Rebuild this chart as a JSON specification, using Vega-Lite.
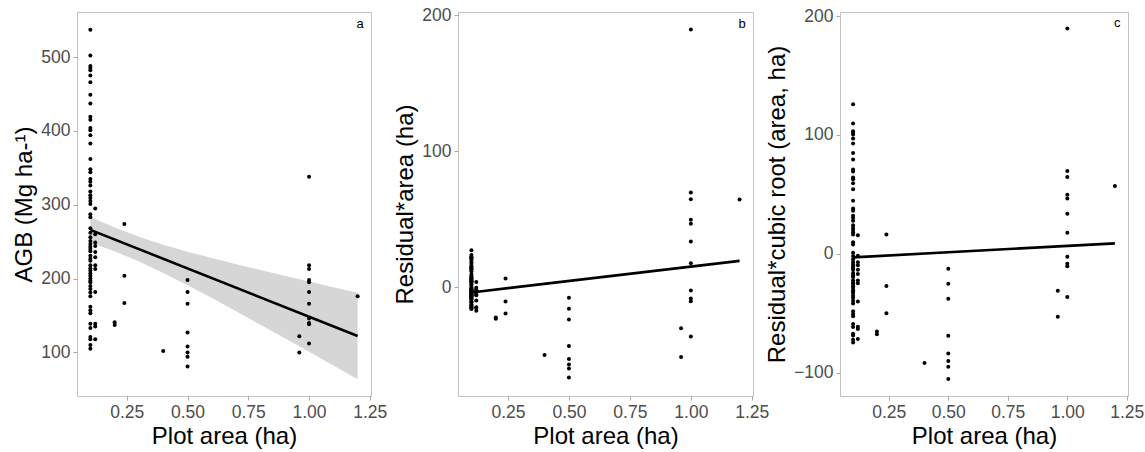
{
  "$schema": "https://vega.github.io/schema/vega-lite/v6.json",
  "background": "white",
  "padding": {"left": 12, "top": 5, "right": 5, "bottom": 5},
  "config": {
    "font": "Liberation Sans",
    "view": {"stroke": "#c2c2c2", "strokeWidth": 1},
    "axis": {
      "grid": false,
      "domain": false,
      "ticks": true,
      "tickColor": "#a8a8a8",
      "tickSize": 4,
      "labelColor": "#4d4d4d",
      "labelFont": "Liberation Sans",
      "labelFontSize": 17.5,
      "labelPadding": 3,
      "titleFont": "Liberation Sans",
      "titleFontSize": 24,
      "titleFontWeight": "normal",
      "titleColor": "#000000",
      "titlePadding": 4
    }
  },
  "datasets": {
    "obs": [
      {"area": 0.1, "agb": 537, "ra": 27.1, "rc": 125.8},
      {"area": 0.1, "agb": 502, "ra": 23.6, "rc": 109.6},
      {"area": 0.1, "agb": 488, "ra": 22.2, "rc": 103.1},
      {"area": 0.1, "agb": 485, "ra": 21.9, "rc": 101.7},
      {"area": 0.1, "agb": 482, "ra": 21.6, "rc": 100.3},
      {"area": 0.1, "agb": 475, "ra": 20.9, "rc": 97.0},
      {"area": 0.1, "agb": 466, "ra": 20.0, "rc": 92.8},
      {"area": 0.1, "agb": 449, "ra": 18.3, "rc": 84.9},
      {"area": 0.1, "agb": 437, "ra": 17.1, "rc": 79.4},
      {"area": 0.1, "agb": 419, "ra": 15.3, "rc": 71.0},
      {"area": 0.1, "agb": 415, "ra": 14.9, "rc": 69.2},
      {"area": 0.1, "agb": 404, "ra": 13.8, "rc": 64.1},
      {"area": 0.1, "agb": 401, "ra": 13.5, "rc": 62.7},
      {"area": 0.1, "agb": 394, "ra": 12.8, "rc": 59.4},
      {"area": 0.1, "agb": 383, "ra": 11.7, "rc": 54.3},
      {"area": 0.1, "agb": 362, "ra": 9.6, "rc": 44.6},
      {"area": 0.1, "agb": 348, "ra": 8.2, "rc": 38.1},
      {"area": 0.1, "agb": 344, "ra": 7.8, "rc": 36.2},
      {"area": 0.1, "agb": 335, "ra": 6.9, "rc": 32.0},
      {"area": 0.1, "agb": 331, "ra": 6.5, "rc": 30.2},
      {"area": 0.1, "agb": 326, "ra": 6.0, "rc": 27.9},
      {"area": 0.1, "agb": 318, "ra": 5.2, "rc": 24.1},
      {"area": 0.1, "agb": 313, "ra": 4.7, "rc": 21.8},
      {"area": 0.1, "agb": 309, "ra": 4.3, "rc": 20.0},
      {"area": 0.1, "agb": 305, "ra": 3.9, "rc": 18.1},
      {"area": 0.1, "agb": 301, "ra": 3.5, "rc": 16.2},
      {"area": 0.1, "agb": 287, "ra": 2.1, "rc": 9.7},
      {"area": 0.1, "agb": 283, "ra": 1.7, "rc": 7.9},
      {"area": 0.1, "agb": 268, "ra": 0.2, "rc": 0.9},
      {"area": 0.1, "agb": 262, "ra": -0.4, "rc": -1.9},
      {"area": 0.1, "agb": 256, "ra": -1.0, "rc": -4.6},
      {"area": 0.1, "agb": 251, "ra": -1.5, "rc": -7.0},
      {"area": 0.1, "agb": 247, "ra": -1.9, "rc": -8.8},
      {"area": 0.1, "agb": 243, "ra": -2.3, "rc": -10.7},
      {"area": 0.1, "agb": 240, "ra": -2.6, "rc": -12.1},
      {"area": 0.1, "agb": 237, "ra": -2.9, "rc": -13.5},
      {"area": 0.1, "agb": 231, "ra": -3.5, "rc": -16.2},
      {"area": 0.1, "agb": 227, "ra": -3.9, "rc": -18.1},
      {"area": 0.1, "agb": 224, "ra": -4.2, "rc": -19.5},
      {"area": 0.1, "agb": 218, "ra": -4.8, "rc": -22.3},
      {"area": 0.1, "agb": 214, "ra": -5.2, "rc": -24.1},
      {"area": 0.1, "agb": 211, "ra": -5.5, "rc": -25.5},
      {"area": 0.1, "agb": 207, "ra": -5.9, "rc": -27.4},
      {"area": 0.1, "agb": 204, "ra": -6.2, "rc": -28.8},
      {"area": 0.1, "agb": 200, "ra": -6.6, "rc": -30.6},
      {"area": 0.1, "agb": 197, "ra": -6.9, "rc": -32.0},
      {"area": 0.1, "agb": 195, "ra": -7.1, "rc": -33.0},
      {"area": 0.1, "agb": 190, "ra": -7.6, "rc": -35.3},
      {"area": 0.1, "agb": 186, "ra": -8.0, "rc": -37.1},
      {"area": 0.1, "agb": 181, "ra": -8.5, "rc": -39.5},
      {"area": 0.1, "agb": 176, "ra": -9.0, "rc": -41.8},
      {"area": 0.1, "agb": 162, "ra": -10.4, "rc": -48.3},
      {"area": 0.1, "agb": 157, "ra": -10.9, "rc": -50.6},
      {"area": 0.1, "agb": 153, "ra": -11.3, "rc": -52.5},
      {"area": 0.1, "agb": 139, "ra": -12.7, "rc": -59.0},
      {"area": 0.1, "agb": 133, "ra": -13.3, "rc": -61.7},
      {"area": 0.1, "agb": 121, "ra": -14.5, "rc": -67.3},
      {"area": 0.1, "agb": 118, "ra": -14.8, "rc": -68.7},
      {"area": 0.1, "agb": 110, "ra": -15.6, "rc": -72.4},
      {"area": 0.1, "agb": 105, "ra": -16.1, "rc": -74.7},
      {"area": 0.12, "agb": 295, "ra": 3.8, "rc": 15.6},
      {"area": 0.12, "agb": 260, "ra": -0.4, "rc": -1.7},
      {"area": 0.12, "agb": 249, "ra": -1.7, "rc": -7.1},
      {"area": 0.12, "agb": 244, "ra": -2.3, "rc": -9.6},
      {"area": 0.12, "agb": 236, "ra": -3.3, "rc": -13.5},
      {"area": 0.12, "agb": 229, "ra": -4.1, "rc": -17.0},
      {"area": 0.12, "agb": 218, "ra": -5.4, "rc": -22.4},
      {"area": 0.12, "agb": 213, "ra": -6.0, "rc": -24.9},
      {"area": 0.12, "agb": 182, "ra": -9.8, "rc": -40.1},
      {"area": 0.12, "agb": 139, "ra": -14.9, "rc": -61.4},
      {"area": 0.12, "agb": 135, "ra": -15.4, "rc": -63.3},
      {"area": 0.12, "agb": 118, "ra": -17.4, "rc": -71.7},
      {"area": 0.2, "agb": 141, "ra": -22.4, "rc": -65.5},
      {"area": 0.2, "agb": 137, "ra": -23.2, "rc": -67.8},
      {"area": 0.24, "agb": 274, "ra": 6.3, "rc": 16.3},
      {"area": 0.24, "agb": 204, "ra": -10.5, "rc": -27.2},
      {"area": 0.24, "agb": 167, "ra": -19.4, "rc": -50.1},
      {"area": 0.4, "agb": 102, "ra": -49.9, "rc": -92.0},
      {"area": 0.5, "agb": 198, "ra": -7.9, "rc": -12.5},
      {"area": 0.5, "agb": 182, "ra": -15.9, "rc": -25.2},
      {"area": 0.5, "agb": 166, "ra": -23.9, "rc": -37.9},
      {"area": 0.5, "agb": 127, "ra": -43.4, "rc": -68.9},
      {"area": 0.5, "agb": 108, "ra": -52.9, "rc": -83.9},
      {"area": 0.5, "agb": 100, "ra": -56.9, "rc": -90.3},
      {"area": 0.5, "agb": 94, "ra": -59.9, "rc": -95.0},
      {"area": 0.5, "agb": 81, "ra": -66.4, "rc": -105.4},
      {"area": 0.96, "agb": 122, "ra": -30.3, "rc": -31.2},
      {"area": 0.96, "agb": 100, "ra": -51.5, "rc": -52.9},
      {"area": 1.0, "agb": 338, "ra": 189.6, "rc": 189.6},
      {"area": 1.0, "agb": 218, "ra": 69.6, "rc": 69.6},
      {"area": 1.0, "agb": 213, "ra": 64.6, "rc": 64.6},
      {"area": 1.0, "agb": 198, "ra": 49.6, "rc": 49.6},
      {"area": 1.0, "agb": 195, "ra": 46.6, "rc": 46.6},
      {"area": 1.0, "agb": 182, "ra": 33.6, "rc": 33.6},
      {"area": 1.0, "agb": 166, "ra": 17.6, "rc": 17.6},
      {"area": 1.0, "agb": 146, "ra": -2.4, "rc": -2.4},
      {"area": 1.0, "agb": 140, "ra": -8.4, "rc": -8.4},
      {"area": 1.0, "agb": 138, "ra": -10.4, "rc": -10.4},
      {"area": 1.0, "agb": 112, "ra": -36.4, "rc": -36.4},
      {"area": 1.2, "agb": 176, "ra": 64.5, "rc": 57.1}
    ],
    "fit": [
      {"area": 0.1, "fa": 266.0, "fb": -3.9, "fc": -3.0},
      {"area": 1.2, "fa": 122.3, "fb": 19.3, "fc": 8.8}
    ],
    "band": [
      {"area": 0.1, "lo": 248.5, "hi": 283.5},
      {"area": 0.2, "lo": 236.9, "hi": 269.1},
      {"area": 0.3, "lo": 223.2, "hi": 256.6},
      {"area": 0.4, "lo": 207.7, "hi": 245.9},
      {"area": 0.5, "lo": 191.1, "hi": 236.5},
      {"area": 0.6, "lo": 173.6, "hi": 227.8},
      {"area": 0.7, "lo": 155.7, "hi": 219.5},
      {"area": 0.8, "lo": 137.5, "hi": 211.5},
      {"area": 0.9, "lo": 119.3, "hi": 203.7},
      {"area": 1.0, "lo": 100.8, "hi": 196.0},
      {"area": 1.1, "lo": 82.3, "hi": 188.3},
      {"area": 1.2, "lo": 63.8, "hi": 180.8}
    ]
  },
  "hconcat": [
    {
      "width": 294,
      "height": 384,
      "encoding": {
        "x": {
          "field": "area",
          "type": "quantitative",
          "title": "Plot area (ha)",
          "scale": {"domain": [0.045, 1.255], "nice": false, "zero": false},
          "axis": {"values": [0.25, 0.5, 0.75, 1.0, 1.25], "format": ".2f"}
        }
      },
      "layer": [
        {
          "data": {"name": "band"},
          "mark": {"type": "area", "color": "#d6d6d6", "opacity": 1},
          "encoding": {
            "y": {
              "field": "lo",
              "type": "quantitative",
              "title": "AGB (Mg ha-¹)",
              "scale": {"domain": [41, 561], "nice": false, "zero": false},
              "axis": {"values": [100, 200, 300, 400, 500]}
            },
            "y2": {"field": "hi"}
          }
        },
        {
          "data": {"name": "obs"},
          "mark": {"type": "circle", "size": 16, "color": "#000000", "opacity": 1},
          "encoding": {"y": {"field": "agb", "type": "quantitative", "title": "AGB (Mg ha-¹)"}}
        },
        {
          "data": {"name": "fit"},
          "mark": {"type": "line", "color": "#000000", "strokeWidth": 2.6},
          "encoding": {"y": {"field": "fa", "type": "quantitative", "title": "AGB (Mg ha-¹)"}}
        },
        {
          "data": {"values": [{"area": 1.21, "pos": 545, "tag": "a"}]},
          "mark": {"type": "text", "fontSize": 13, "color": "#000000", "align": "center", "baseline": "middle"},
          "encoding": {
            "y": {"field": "pos", "type": "quantitative", "title": "AGB (Mg ha-¹)"},
            "text": {"field": "tag"}
          }
        }
      ]
    },
    {
      "width": 295,
      "height": 384,
      "encoding": {
        "x": {
          "field": "area",
          "type": "quantitative",
          "title": "Plot area (ha)",
          "scale": {"domain": [0.045, 1.255], "nice": false, "zero": false},
          "axis": {"values": [0.25, 0.5, 0.75, 1.0, 1.25], "format": ".2f"}
        }
      },
      "layer": [
        {
          "data": {"name": "obs"},
          "mark": {"type": "circle", "size": 16, "color": "#000000", "opacity": 1},
          "encoding": {
            "y": {
              "field": "ra",
              "type": "quantitative",
              "title": "Residual*area (ha)",
              "scale": {"domain": [-80.1, 202.4], "nice": false, "zero": false},
              "axis": {"values": [0, 100, 200]}
            }
          }
        },
        {
          "data": {"name": "fit"},
          "mark": {"type": "line", "color": "#000000", "strokeWidth": 2.6},
          "encoding": {"y": {"field": "fb", "type": "quantitative", "title": "Residual*area (ha)"}}
        },
        {
          "data": {"values": [{"area": 1.21, "pos": 193.4, "tag": "b"}]},
          "mark": {"type": "text", "fontSize": 13, "color": "#000000", "align": "center", "baseline": "middle"},
          "encoding": {
            "y": {"field": "pos", "type": "quantitative", "title": "Residual*area (ha)"},
            "text": {"field": "tag"}
          }
        }
      ]
    },
    {
      "width": 288,
      "height": 384,
      "encoding": {
        "x": {
          "field": "area",
          "type": "quantitative",
          "title": "Plot area (ha)",
          "scale": {"domain": [0.045, 1.255], "nice": false, "zero": false},
          "axis": {"values": [0.25, 0.5, 0.75, 1.0, 1.25], "format": ".2f"}
        }
      },
      "layer": [
        {
          "data": {"name": "obs"},
          "mark": {"type": "circle", "size": 16, "color": "#000000", "opacity": 1},
          "encoding": {
            "y": {
              "field": "rc",
              "type": "quantitative",
              "title": "Residual*cubic root (area, ha)",
              "scale": {"domain": [-119.7, 203.5], "nice": false, "zero": false},
              "axis": {"values": [-100, 0, 100, 200]}
            }
          }
        },
        {
          "data": {"name": "fit"},
          "mark": {"type": "line", "color": "#000000", "strokeWidth": 2.6},
          "encoding": {"y": {"field": "fc", "type": "quantitative", "title": "Residual*cubic root (area, ha)"}}
        },
        {
          "data": {"values": [{"area": 1.21, "pos": 194, "tag": "c"}]},
          "mark": {"type": "text", "fontSize": 13, "color": "#000000", "align": "center", "baseline": "middle"},
          "encoding": {
            "y": {"field": "pos", "type": "quantitative", "title": "Residual*cubic root (area, ha)"},
            "text": {"field": "tag"}
          }
        }
      ]
    }
  ],
  "spacing": 87,
  "bounds": "flush"
}
